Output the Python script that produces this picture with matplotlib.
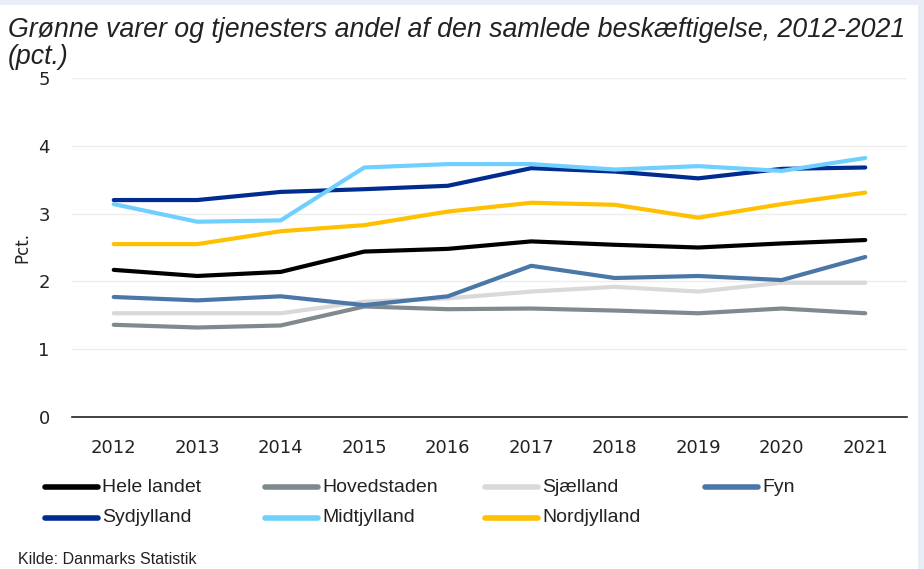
import matplotlib
matplotlib.use("Agg")
import matplotlib.pyplot as plt
from matplotlib.lines import Line2D
from matplotlib.patches import Rectangle

years = [2012, 2013, 2014, 2015, 2016, 2017, 2018, 2019, 2020, 2021]

hele_landet = [2.17, 2.08, 2.14, 2.44, 2.48, 2.59, 2.54, 2.50, 2.56, 2.61]
hovedstaden = [1.36, 1.32, 1.35, 1.63, 1.59, 1.60, 1.57, 1.53, 1.60, 1.53]
sjaelland = [1.53, 1.53, 1.53, 1.70, 1.75, 1.85, 1.92, 1.85, 1.98, 1.98]
fyn = [1.77, 1.72, 1.78, 1.65, 1.78, 2.23, 2.05, 2.08, 2.02, 2.36]
sydjylland = [3.20, 3.20, 3.32, 3.36, 3.41, 3.67, 3.62, 3.52, 3.66, 3.68]
midtjylland = [3.14, 2.88, 2.90, 3.68, 3.73, 3.73, 3.65, 3.70, 3.63, 3.82]
nordjylland = [2.55, 2.55, 2.74, 2.83, 3.03, 3.16, 3.13, 2.94, 3.14, 3.31]

names = ["Hele landet", "Hovedstaden", "Sjælland", "Fyn",
         "Sydjylland", "Midtjylland", "Nordjylland"]
series = [hele_landet, hovedstaden, sjaelland, fyn,
          sydjylland, midtjylland, nordjylland]
colors = ["#000000", "#7f8a8f", "#d9d9d9", "#4a77a8",
          "#002b8f", "#6fcfff", "#ffc000"]

narrow = ["Liberation Sans Narrow", "Liberation Sans", "DejaVu Sans"]

fig = plt.figure(figsize=(9.24, 5.69), dpi=100)
fig.patch.set_facecolor("#e9edf6")
fig.add_artist(Rectangle((0, 0), 918 / 924, 1 - 5 / 569,
                         transform=fig.transFigure, facecolor="white",
                         edgecolor="none", zorder=0))

ax = fig.add_axes([72 / 924, 1 - 417 / 569, 835 / 924, 339 / 569])
ax.set_facecolor("white")

for name, vals, c in zip(names, series, colors):
    ax.plot(years, vals, color=c, linewidth=3.0, label=name,
            solid_capstyle="round")

ax.set_xlim(2011.5, 2021.5)
ax.set_ylim(0, 5)
ax.set_xticks(years)
ax.set_yticks([0, 1, 2, 3, 4, 5])
ax.tick_params(length=0, labelsize=13, colors="#222222")
ax.tick_params(axis="x", pad=16)
ax.tick_params(axis="y", pad=16)
ax.grid(axis="y", color="#eeeeee", linewidth=1)
ax.set_axisbelow(True)
for s in ["top", "right", "left"]:
    ax.spines[s].set_visible(False)
ax.spines["bottom"].set_color("#222222")
ax.spines["bottom"].set_linewidth(1.2)
ax.set_ylabel("Pct.", fontsize=12, color="#222222", labelpad=5)

fig.text(8 / 924, 1 - 17 / 569,
         "Grønne varer og tjenesters andel af den samlede beskæftigelse, 2012-2021\n(pct.)",
         family=narrow, style="italic", fontsize=19.3, color="#222222",
         va="top", ha="left", linespacing=1.05)

# legend, 4 fixed-width columns
for i, (name, c) in enumerate(zip(names, colors)):
    row, col = divmod(i, 4)
    x0 = (45 + col * 220) / 924
    y0 = 1 - (487 + row * 31) / 569
    fig.add_artist(Line2D([x0, x0 + 53 / 924], [y0, y0], color=c,
                          linewidth=4, transform=fig.transFigure,
                          solid_capstyle="round"))
    fig.text(x0 + 57 / 924, y0, name, family=narrow, fontsize=14,
             color="#222222", va="center", ha="left")

fig.text(18 / 924, 1 - 552 / 569, "Kilde: Danmarks Statistik",
         family=narrow, fontsize=11.5, color="#222222", va="top", ha="left")

fig.savefig("out.png", dpi=100)
